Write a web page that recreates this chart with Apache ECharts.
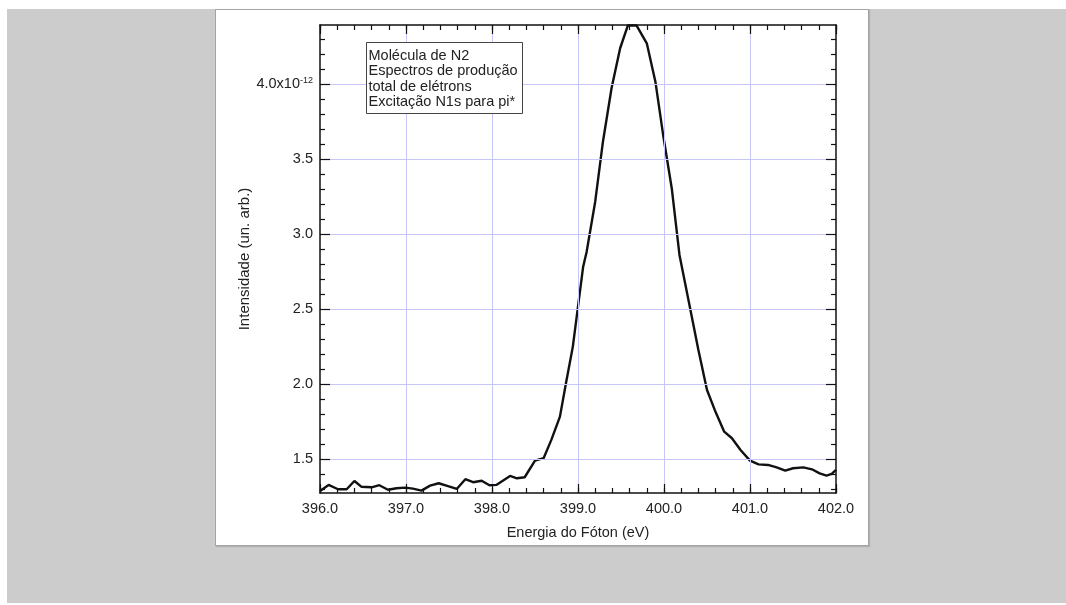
<!DOCTYPE html>
<html lang="pt">
<head>
    <meta charset="UTF-8">
    <title>Molécula de N2 - Excitação N1s para pi*</title>
    <script src="https://cdn.jsdelivr.net/npm/echarts@6/dist/echarts.min.js"></script>
    <style>
        body { margin: 0; background: #fff; }
        #fundo { position: absolute; left: 7px; top: 9px; width: 1059px; height: 594px; background: #cccccc; }
        #painel { position: absolute; left: 215px; top: 9px; width: 652px; height: 535px; background: #fff;
                  border: 1px solid #a4a4a4; box-shadow: 1px 1px 1px #b0b0b0; }
        #grafico { position: absolute; left: 0; top: 0; width: 1066px; height: 605px; }
    </style>
</head>
<body>
    <div id="fundo"></div>
    <div id="painel"></div>
    <div id="grafico"></div>

    <script>
        // energia do fóton (eV) e intensidade (em unidades de 1e-12)
        var energia = [396.00, 396.10, 396.21, 396.31, 396.40, 396.48, 396.60, 396.69, 396.79, 396.89,
                       396.99, 397.08, 397.18, 397.28, 397.38, 397.47, 397.59, 397.69, 397.78, 397.88,
                       397.97, 398.05, 398.21, 398.29, 398.38, 398.50, 398.60, 398.69, 398.79, 398.86,
                       398.94, 399.00, 399.06, 399.10, 399.20, 399.29, 399.39, 399.49, 399.58, 399.68,
                       399.80, 399.90, 399.99, 400.09, 400.18, 400.30, 400.40, 400.50, 400.59, 400.70,
                       400.79, 400.89, 401.00, 401.10, 401.21, 401.31, 401.41, 401.50, 401.62, 401.72,
                       401.81, 401.89, 401.95, 402.00];
        var intensidade = [1.287, 1.327, 1.298, 1.298, 1.353, 1.315, 1.311, 1.325, 1.295, 1.305,
                           1.309, 1.302, 1.289, 1.322, 1.338, 1.322, 1.300, 1.365, 1.345, 1.355,
                           1.325, 1.327, 1.387, 1.371, 1.378, 1.489, 1.505, 1.627, 1.782, 2.005,
                           2.249, 2.515, 2.782, 2.880, 3.215, 3.615, 3.971, 4.238, 4.390, 4.390,
                           4.271, 4.015, 3.660, 3.305, 2.860, 2.515, 2.227, 1.960, 1.827, 1.682,
                           1.638, 1.560, 1.489, 1.464, 1.460, 1.444, 1.422, 1.438, 1.444, 1.431,
                           1.404, 1.389, 1.400, 1.427];

        var yMin = 1.273, yMax = 4.393;
        var ticksY = [1.5, 2.0, 2.5, 3.0, 3.5, 4.0];
        var ticksYMenores = [1.3, 1.4, 1.6, 1.7, 1.8, 1.9, 2.1, 2.2, 2.3, 2.4, 2.6, 2.7, 2.8, 2.9,
                             3.1, 3.2, 3.3, 3.4, 3.6, 3.7, 3.8, 3.9, 4.1, 4.2, 4.3];
        var gradeX = [397, 398, 399, 400, 401];
        var legenda = ['Molécula de N2', 'Espectros de produção', 'total de elétrons', 'Excitação N1s para pi*'];

        var fonte = "'Liberation Sans', Arial, sans-serif";
        var preto = '#111';

        var pontos = energia.map(function (e, i) { return [e, intensidade[i]]; });

        var linhasGrade = gradeX.map(function (v) { return { xAxis: v }; })
            .concat(ticksY.map(function (v) { return { yAxis: v }; }));

        // eixo x: principal (intervalo 1) ou menor (intervalo 0.2)
        function eixoX(pos, intervalo, comprimento, principal, comRotulo) {
            return {
                type: 'value', position: pos, min: 396, max: 402, interval: intervalo, z: 5,
                axisLine: { show: principal, onZero: false, lineStyle: { color: preto, width: 1.5 } },
                axisTick: { show: true, inside: true, length: comprimento, lineStyle: { color: preto, width: 1.2 } },
                splitLine: { show: false },
                axisLabel: {
                    show: comRotulo, color: '#222', fontSize: 14.5, fontFamily: fonte, margin: 8,
                    formatter: function (v) { return v.toFixed(1); }
                },
                name: comRotulo ? 'Energia do Fóton (eV)' : '',
                nameLocation: 'middle', nameGap: 32,
                nameTextStyle: { color: '#222', fontSize: 14.5, fontFamily: fonte }
            };
        }

        function eixoY(pos, valores, comprimento, principal, comRotulo) {
            return {
                type: 'value', position: pos, min: yMin, max: yMax, z: 5,
                axisLine: { show: principal, onZero: false, lineStyle: { color: preto, width: 1.5 } },
                axisTick: { show: true, inside: true, length: comprimento, customValues: valores,
                            lineStyle: { color: preto, width: 1.2 } },
                splitLine: { show: false },
                axisLabel: {
                    show: comRotulo, customValues: valores, color: '#222', fontSize: 14.5,
                    fontFamily: fonte, margin: 7,
                    formatter: function (v) {
                        return Math.abs(v - 4) < 1e-9 ? '{m|4.0x10}{e|-12}' : v.toFixed(1);
                    },
                    rich: {
                        m: { fontSize: 14.5, color: '#222', fontFamily: fonte, verticalAlign: 'bottom' },
                        e: { fontSize: 9, color: '#222', fontFamily: fonte, verticalAlign: 'top', padding: [0, 0, 7, 0] }
                    }
                },
                name: comRotulo ? 'Intensidade (un. arb.)' : '',
                nameLocation: 'middle', nameGap: 59,
                nameTextStyle: { color: '#222', fontSize: 15, fontFamily: fonte }
            };
        }

        var grafico = echarts.init(document.getElementById('grafico'));
        var option = {
            animation: false,
            grid: { left: 320, right: 230, top: 25, bottom: 112 },
            xAxis: [
                eixoX('bottom', 1, 9, true, true),
                eixoX('bottom', 0.2, 5, false, false),
                eixoX('top', 1, 9, true, false),
                eixoX('top', 0.2, 5, false, false)
            ],
            yAxis: [
                eixoY('left', ticksY, 10, true, true),
                eixoY('left', ticksYMenores, 5, false, false),
                eixoY('right', ticksY, 10, true, false),
                eixoY('right', ticksYMenores, 5, false, false)
            ],
            graphic: [{
                type: 'group', left: 366, top: 42, z: 20,
                children: [
                    { type: 'rect', z: 20, shape: { x: 0, y: 0, width: 156, height: 71 },
                      style: { fill: '#fff', stroke: '#444', lineWidth: 1 } },
                    { type: 'text', z: 21, x: 2, y: 6,
                      style: { text: legenda.join('\n'), font: '14.5px ' + fonte, lineHeight: 15.3, fill: '#222' } }
                ]
            }],
            series: [
                {
                    // linhas de grade (lilás)
                    type: 'line', data: [], z: 1,
                    markLine: {
                        silent: true, symbol: 'none', symbolSize: 0, label: { show: false },
                        lineStyle: { color: '#c6c6f8', width: 1, type: 'solid' },
                        data: linhasGrade
                    }
                },
                {
                    type: 'line', data: pontos, z: 3, showSymbol: false,
                    lineStyle: { color: preto, width: 2.4 }
                }
            ]
        };
        grafico.setOption(option);
    </script>
</body>
</html>
